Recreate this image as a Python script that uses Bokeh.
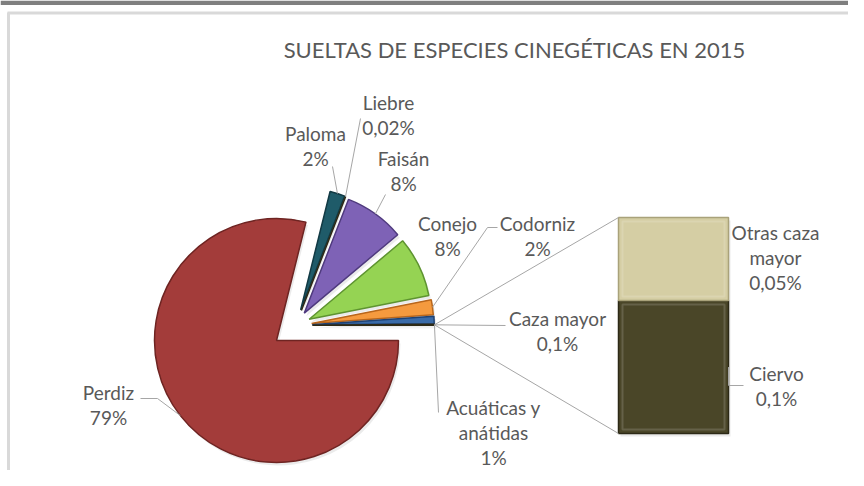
import math
from bokeh.plotting import figure
from bokeh.models import Range1d
from bokeh.core.properties import value
from bokeh.embed import file_html
from bokeh.resources import INLINE

# ---------------- data ----------------
title_text = "SUELTAS DE ESPECIES CINEGÉTICAS EN 2015"
pie_names = ["Perdiz", "Paloma", "Liebre", "Faisán", "Conejo", "Codorniz",
             "Acuáticas y anátidas", "Caza mayor"]
pie_values = [79, 2, 0.02, 8, 8, 2, 1, 0.13]
pie_pct = ["79%", "2%", "0,02%", "8%", "8%", "2%", "1%", "0,1%"]
bar_names = ["Ciervo", "Otras caza mayor"]
bar_values = [0.08, 0.05]
bar_pct = ["0,1%", "0,05%"]

# ---------------- style ----------------
pie_colors = ["#A33C3A", "#1F5B69", "#4A4527", "#7E62B6", "#95D353",
              "#F59A3E", "#3A6BA8", "#4A4527"]
pie_edges = ["#6E2422", "#123A44", "#2E2A16", "#4F3A7E", "#5E9430",
             "#B8661C", "#1F4273", "#2E2A16"]
bar_colors = ["#4A4628", "#D5CEA4"]
bar_edges = ["#2C2916", "#A9A27A"]
TXT = "#595959"
LEAD = "#A6A6A6"
FONT = "Lato"

W, H = 848, 470
PAGE_H = 486


def Y(py):  # picture pixel row -> data y
    return PAGE_H - py


p = figure(width=W, height=H, output_backend="svg", toolbar_location=None,
           x_range=Range1d(0, W), y_range=Range1d(Y(H), Y(0)),
           min_border=0, background_fill_color="white",
           border_fill_color="white", outline_line_color=None)
p.axis.visible = False
p.grid.visible = False

# top dark band and chart frame
p.quad(left=[0], right=[W], bottom=[Y(4.5)], top=[Y(0)],
       fill_color="#7F7F7F", line_color=None)
p.line([8, 8], [Y(12), Y(486)], line_color="#D9D9D9", line_width=3)
p.line([7, W], [Y(12.5), Y(12.5)], line_color="#D9D9D9", line_width=3)

# ---------------- pie ----------------
CX, CY, R = 276, Y(340), 122
EXPLODE = 39
total = sum(pie_values)
n = len(pie_values)
angles = [0.0] * n
ends = [0.0] * n
cum = 0.0
for i in reversed(range(n)):
    a = pie_values[i] / total * 2 * math.pi
    angles[i] = cum
    ends[i] = cum + a
    cum += a
group_mid = ends[1] / 2  # mid angle of all small slices (Paloma..Caza mayor)

centers = []
for i in range(n):
    if i == 0:
        centers.append((CX, CY))
    else:
        mid = (angles[i] + ends[i]) / 2
        d = 0.6 * group_mid + 0.4 * mid
        centers.append((CX + EXPLODE * math.cos(d), CY + EXPLODE * math.sin(d)))

# soft shadow
for i in range(n):
    cx, cy = centers[i]
    p.wedge(x=[cx + 2], y=[cy - 3], radius=R, start_angle=angles[i],
            end_angle=ends[i], fill_color="#000000", fill_alpha=0.08,
            line_color=None)
for i in range(n):
    cx, cy = centers[i]
    p.wedge(x=[cx], y=[cy], radius=R, start_angle=angles[i], end_angle=ends[i],
            fill_color=pie_colors[i], line_color=pie_edges[i], line_width=1.5)


def arc_pt(i, ang, rr=R):
    cx, cy = centers[i]
    return cx + rr * math.cos(ang), cy + rr * math.sin(ang)


# ---------------- bar ----------------
BX0, BX1, BY0, BY1 = 618, 728, Y(433), Y(217)
btot = sum(bar_values)
scale = (BY1 - BY0) / btot
b = BY0
seg = []
for i, v in enumerate(bar_values):
    top = b + v * scale
    p.quad(left=[BX0 + 2], right=[BX1 + 2], bottom=[b - 3], top=[top - 3],
           fill_color="#000000", fill_alpha=0.08, line_color=None)
    seg.append((b, top))
    b = top
for i, (b0, b1) in enumerate(seg):
    p.quad(left=[BX0], right=[BX1], bottom=[b0], top=[b1],
           fill_color=bar_colors[i], line_color=bar_edges[i], line_width=1.5)
    p.quad(left=[BX0 + 4], right=[BX1 - 4], bottom=[b0 + 4], top=[b1 - 4],
           fill_color=None, line_color="white", line_alpha=0.15, line_width=2)

# connector lines from the "Caza mayor" slice to the bar
k = n - 1
ox, oy = arc_pt(k, (angles[k] + ends[k]) / 2)
p.line([ox, BX0], [oy, BY1], line_color=LEAD, line_width=1)
p.line([ox, BX0], [oy, BY0], line_color=LEAD, line_width=1)

# ---------------- labels ----------------
lab = {  # name -> (x, first line row, lines)
    "Perdiz": (108, 392, ["Perdiz", pie_pct[0]]),
    "Paloma": (315, 133, ["Paloma", pie_pct[1]]),
    "Liebre": (388, 102, ["Liebre", pie_pct[2]]),
    "Faisán": (403, 158, ["Faisán", pie_pct[3]]),
    "Conejo": (447, 223, ["Conejo", pie_pct[4]]),
    "Codorniz": (537, 223, ["Codorniz", pie_pct[5]]),
    "Acuáticas y anátidas": (493, 407, ["Acuáticas y", "anátidas", pie_pct[6]]),
    "Caza mayor": (557, 318, ["Caza mayor", pie_pct[7]]),
    "Ciervo": (776, 373, ["Ciervo", bar_pct[0]]),
    "Otras caza mayor": (775, 232, ["Otras caza", "mayor", bar_pct[1]]),
}
LH = 25
tx, ty, tt = [], [], []
for name, (x, y0, lines) in lab.items():
    for j, t in enumerate(lines):
        tx.append(x)
        ty.append(Y(y0 + j * LH))
        tt.append(t)
p.text(x=tx, y=ty, text=tt, text_font=value(FONT), text_font_size="19px",
       text_color=TXT, text_align="center", text_baseline="middle")

p.text(x=[514], y=[Y(49)], text=[title_text], text_font=value(FONT),
       text_font_size="22px", text_color=TXT, text_align="center",
       text_baseline="middle")

# leader lines (label side -> slice)
def mid_of(i):
    return (angles[i] + ends[i]) / 2

leaders = [
    ([(332, 166)], arc_pt(1, mid_of(1))),
    ([(360, 118)], arc_pt(2, mid_of(2))),
    ([(385, 194)], arc_pt(3, mid_of(3))),
    ([(497, 227), (487, 227)], arc_pt(5, mid_of(5))),
    ([(505, 325)], (ox, oy)),
    ([(438, 412)], (ox, oy)),
    ([(140, 398), (157, 398)], arc_pt(0, mid_of(0))),
]
for pts, end in leaders:
    xs = [q[0] for q in pts] + [end[0]]
    ys = [Y(q[1]) for q in pts] + [end[1]]
    p.line(xs, ys, line_color=LEAD, line_width=1)

cy_mid = (seg[0][0] + seg[0][1]) / 2
p.line([743, BX1, BX1], [Y(385), Y(385), cy_mid], line_color=LEAD, line_width=1)

open("out.html", "w").write(file_html(p, INLINE))
